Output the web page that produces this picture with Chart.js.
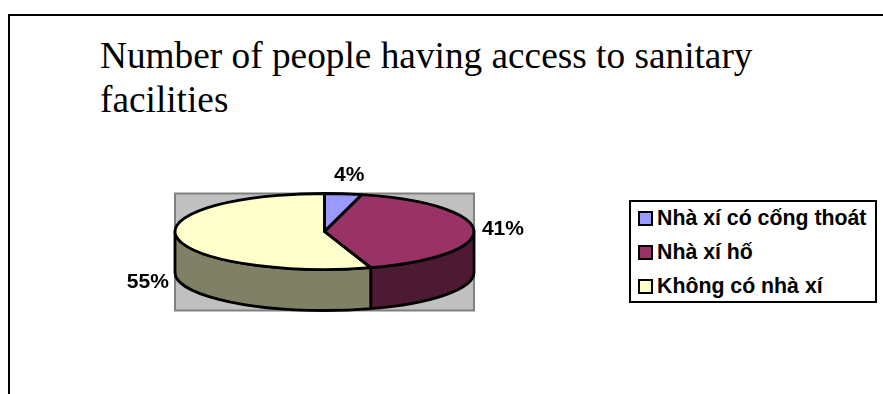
<!DOCTYPE html>
<html>
<head>
<meta charset="utf-8">
<title>Sanitary facilities</title>
<script src="https://cdn.jsdelivr.net/npm/chart.js@4/dist/chart.umd.min.js"></script>
<style>
  html, body { margin: 0; padding: 0; background: #fff; overflow: hidden; }
  #page { position: relative; width: 883px; height: 394px; overflow: hidden; }
  #frame {
    position: absolute; left: 8px; top: 14px; right: -4px; bottom: -4px;
    border-left: 2px solid #000; border-top: 2px solid #000;
  }
  #title {
    position: absolute; left: 100px; top: 34px; width: 700px;
    font: 37.3px/44px "Liberation Serif", serif; color: #000;
  }
  #chart { position: absolute; left: 0; top: 0; }
  #legend {
    position: absolute; left: 629px; top: 200px; width: 244px; height: 99px;
    border: 2px solid #000; background: #fff;
    font: bold 21.3px "Liberation Sans", Arial, sans-serif; color: #000;
  }
  .row { position: absolute; left: 7px; height: 22px; line-height: 22px; white-space: nowrap; }
  .swatch {
    display: inline-block; box-sizing: border-box; width: 15px; height: 15px;
    border: 2px solid #000; margin-right: 4px; vertical-align: -1px;
  }
</style>
</head>
<body>
<div id="page">
  <div id="frame"></div>
  <div id="title">Number of people having access to sanitary facilities</div>
  <canvas id="chart" width="883" height="394"></canvas>
  <div id="legend"></div>
</div>
<script>
/* =========================
   DATA
========================= */
const categories = ["Nhà xí có cống thoát", "Nhà xí hố", "Không có nhà xí"];
const shares = [4, 41, 55];

const topColors = ["#9999ff", "#993366", "#ffffcc"];
const sideColors = ["#4d4d80", "#4d1a33", "#808066"];

/* =========================
   DISC SHAPE
========================= */
const discHeight = 76;   // vertical diameter of the top face
const wallDepth = 41;
const penWidth = 2.8;
// label offsets from the rim point of each slice
const labelNudge = [[6, -19], [29, -1], [-29, 45]];

function squash(chart) {
  const arc = chart.getDatasetMeta(0).data[0];
  return { cx: arc.x, cy: arc.y, rx: arc.outerRadius, ry: discHeight / 2 };
}

const tiltedPie = {
  id: "tiltedPie",

  beforeDatasetsDraw(chart) {
    const { ctx } = chart;
    const { cx, cy, rx, ry } = squash(chart);

    // plot background
    ctx.save();
    ctx.fillStyle = "#c0c0c0";
    ctx.strokeStyle = "#808080";
    ctx.lineWidth = 2;
    ctx.fillRect(cx - rx, cy - ry, rx * 2, ry * 2 + wallDepth);
    ctx.strokeRect(cx - rx, cy - ry, rx * 2, ry * 2 + wallDepth);

    // front wall, only the part of each slice facing the viewer
    ctx.strokeStyle = "#000";
    ctx.lineWidth = penWidth;
    ctx.lineJoin = "round";
    chart.getDatasetMeta(0).data.forEach((el, i) => {
      const a0 = Math.max(el.startAngle, 0);
      const a1 = Math.min(el.endAngle, Math.PI);
      if (a1 <= a0) return;
      ctx.beginPath();
      ctx.ellipse(cx, cy, rx, ry, 0, a0, a1);
      ctx.ellipse(cx, cy + wallDepth, rx, ry, 0, a1, a0, true);
      ctx.closePath();
      ctx.fillStyle = sideColors[i];
      ctx.fill();
      ctx.stroke();
    });
    ctx.restore();

    // the library draws the slices flattened onto the top face
    ctx.save();
    ctx.translate(cx, cy);
    ctx.scale(1, ry / rx);
    ctx.translate(-cx, -cy);
  },

  afterDatasetsDraw(chart) {
    const { ctx } = chart;
    ctx.restore();

    const { cx, cy, rx, ry } = squash(chart);
    const arcs = chart.getDatasetMeta(0).data;

    // outlines go on after the scale so the pen stays even
    ctx.save();
    ctx.strokeStyle = "#000";
    ctx.lineWidth = penWidth;
    ctx.lineJoin = "round";
    arcs.forEach(el => {
      ctx.beginPath();
      ctx.moveTo(cx, cy);
      ctx.ellipse(cx, cy, rx, ry, 0, el.startAngle, el.endAngle);
      ctx.closePath();
      ctx.stroke();
    });

    // percent labels
    ctx.fillStyle = "#000";
    ctx.font = "bold 21px 'Liberation Sans', Arial, sans-serif";
    ctx.textAlign = "center";
    ctx.textBaseline = "middle";
    arcs.forEach((el, i) => {
      const mid = (el.startAngle + el.endAngle) / 2;
      const x = cx + rx * Math.cos(mid) + labelNudge[i][0];
      const y = cy + ry * Math.sin(mid) + labelNudge[i][1];
      ctx.fillText(shares[i] + "%", x, y);
    });
    ctx.restore();
  }
};

/* =========================
   CHART
========================= */
new Chart(document.getElementById("chart"), {
  type: "pie",
  data: {
    labels: categories,
    datasets: [{
      data: shares,
      backgroundColor: topColors,
      borderWidth: 0
    }]
  },
  options: {
    responsive: false,
    animation: false,
    layout: { padding: { left: 175, right: 409, top: 82, bottom: 13 } },
    plugins: {
      legend: { display: false },
      tooltip: { enabled: false }
    }
  },
  plugins: [tiltedPie]
});

/* =========================
   LEGEND
========================= */
const legendBox = document.getElementById("legend");
const rowTops = [5, 39, 73];

categories.forEach((name, i) => {
  const row = document.createElement("div");
  row.className = "row";
  row.style.top = rowTops[i] + "px";

  const swatch = document.createElement("span");
  swatch.className = "swatch";
  swatch.style.background = topColors[i];

  row.appendChild(swatch);
  row.appendChild(document.createTextNode(name));
  legendBox.appendChild(row);
});
</script>
</body>
</html>
